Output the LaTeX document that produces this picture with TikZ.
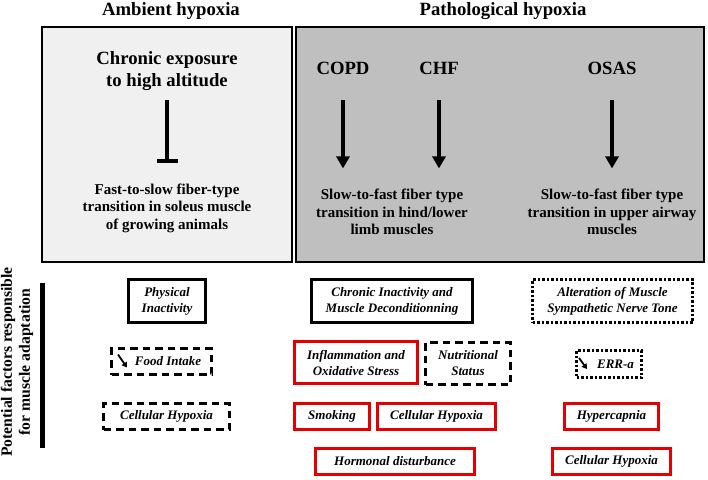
\documentclass[tikz,border=0pt]{standalone}
\usepackage{fontspec}
\setmainfont{Liberation Serif}
\usetikzlibrary{arrows.meta}
\definecolor{ambfill}{gray}{0.94}
\definecolor{pathfill}{gray}{0.75}
\definecolor{factred}{RGB}{228,0,0}

\begin{document}
\begin{tikzpicture}[x=1pt, y=-1pt,
    head/.style={font=\bfseries\fontsize{18.7}{22}\selectfont, align=center, inner sep=0pt},
    effect/.style={font=\bfseries\fontsize{15}{17.5}\selectfont, align=center, inner sep=0pt},
    factor/.style={font=\bfseries\itshape\fontsize{13}{16}\selectfont, align=center, line width=3pt, inner sep=1pt},
    solidbox/.style={factor, draw=black},
    dashbox/.style={factor, draw=black, dash pattern=on 7.5pt off 5pt},
    dotbox/.style={factor, draw=black, dash pattern=on 2.5pt off 2pt},
    redbox/.style={factor, draw=factred},
    down/.style={-{Triangle[length=12pt, width=13pt]}, line width=4pt},
    small down/.style={-{Triangle[length=5pt, width=6pt]}, line width=1.8pt}]
    \useasboundingbox (0,0) rectangle (708,479);

    % Top boxes
    \draw[line width=2pt, fill=ambfill] (42,27) rectangle (292,262);
    \draw[line width=2pt, fill=pathfill] (296,27) rectangle (704,262);

    % Headings
    \node[head, anchor=base] (amb) at (171,15) {Ambient hypoxia};
    \node[head, anchor=base] (path) at (503,15) {Pathological hypoxia};

    % Ambient hypoxia
    \node[head] (altitude) at (167,70.7) {Chronic exposure\\to high altitude};
    \node[effect] (soleus) at (167,208) {Fast-to-slow fiber-type\\transition in soleus muscle\\of growing animals};
    \draw[-{Bar[width=21pt]}, line width=4pt, shorten <=10pt, shorten >=20pt] (altitude.south) -- (altitude.south |- soleus.north);

    % Pathological hypoxia
    \node[head, anchor=base] (copd) at (343,74) {COPD};
    \node[head, anchor=base] (chf) at (439,74) {CHF};
    \node[head, anchor=base] (osas) at (612,74) {OSAS};
    \node[effect] (limb) at (392,212) {Slow-to-fast fiber type\\transition in hind/lower\\limb muscles};
    \node[effect] (airway) at (612,212) {Slow-to-fast fiber type\\transition in upper airway\\muscles};
    \draw[down, shorten <=26pt, shorten >=20.5pt] (copd.south) -- (copd.south |- limb.north);
    \draw[down, shorten <=26pt, shorten >=20.5pt] (chf.south) -- (chf.south |- limb.north);
    \draw[down, shorten <=26pt, shorten >=20.5pt] (osas.south) -- (osas.south |- airway.north);

    % Side label
    \node[rotate=90, font=\bfseries\fontsize{15.7}{18}\selectfont, align=center, inner sep=0pt] (potential) at (17,362) {Potential factors responsible\\for muscle adaptation};
    \draw[line width=4.5pt] (42.5,283) -- (42.5,448);

    % Factors, ambient
    \node[solidbox, minimum width=77pt, minimum height=43pt] (inact) at (167,301) {Physical\\Inactivity};
    \node[dashbox, minimum width=100pt, minimum height=26pt] (food) at (161.5,361.5) {\hspace*{13pt}Food Intake};
    \node[dashbox, minimum width=126pt, minimum height=26pt] (hypoxa) at (166.5,416.5) {Cellular Hypoxia};
    \draw[small down] ([shift={(8,-7)}]food.west) -- ++(9,13);

    % Factors, COPD and CHF
    \node[solidbox, minimum width=161pt, minimum height=43pt] (decond) at (392,301) {Chronic Inactivity and\\Muscle Deconditionning};
    \node[redbox, minimum width=123pt, minimum height=42pt] (inflam) at (356,362.5) {Inflammation and\\Oxidative Stress};
    \node[dashbox, minimum width=85pt, minimum height=42pt] (nutri) at (468,363.5) {Nutritional\\Status};
    \node[redbox, minimum width=75pt, minimum height=26pt] (smoke) at (332,416.5) {Smoking};
    \node[redbox, minimum width=118pt, minimum height=26pt] (hypoxb) at (436.5,416.5) {Cellular Hypoxia};
    \node[redbox, minimum width=159pt, minimum height=26pt] (hormone) at (395,461.5) {Hormonal disturbance};

    % Factors, OSAS
    \node[dotbox, minimum width=160pt, minimum height=43pt] (nerve) at (612.5,301) {Alteration of Muscle\\Sympathetic Nerve Tone};
    \node[dotbox, minimum width=65pt, minimum height=27pt] (erra) at (609,364) {\hspace*{13pt}ERR-a};
    \node[redbox, minimum width=94pt, minimum height=26pt] (hypercap) at (611.5,416.5) {Hypercapnia};
    \node[redbox, minimum width=118pt, minimum height=26pt] (hypoxc) at (611.5,461.5) {Cellular Hypoxia};
    \draw[small down] ([shift={(4,-6)}]erra.west) -- ++(8,11);
\end{tikzpicture}
\end{document}
